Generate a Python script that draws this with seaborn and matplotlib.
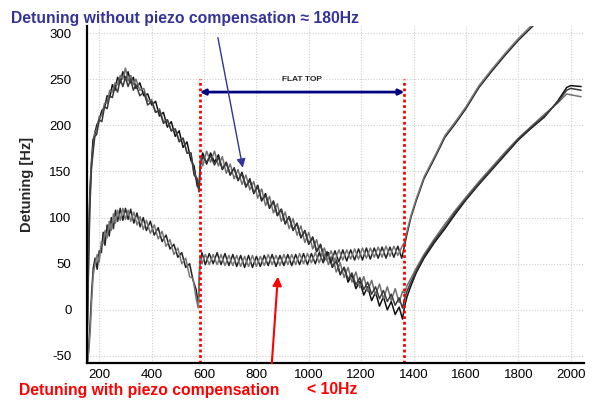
import numpy as np
import pandas as pd
import matplotlib
matplotlib.use("Agg")
import matplotlib.pyplot as plt
import seaborn as sns

# ── Data ──────────────────────────────────────────────────────

# x positions (same for the three uncompensated pulses)
x_free = [
    152, 158, 164, 170, 176, 183, 190, 200, 210, 220,
    230, 240, 250, 260, 270, 280, 290, 300, 310, 320,
    330, 340, 355, 370, 385, 400, 415, 430, 445, 460,
    475, 490, 505, 520, 535, 550, 562, 574, 581, 586,
    595, 610, 625, 640, 655, 670, 685, 700, 715, 730,
    745, 760, 775, 790, 805, 820, 835, 850, 865, 880,
    895, 910, 925, 940, 955, 970, 985, 1000, 1015, 1030,
    1045, 1060, 1075, 1090, 1105, 1120, 1135, 1150, 1165, 1180,
    1195, 1210, 1225, 1240, 1255, 1270, 1285, 1300, 1315, 1330,
    1345, 1358, 1366, 1375, 1390, 1410, 1440, 1480, 1520, 1560,
    1600, 1650, 1700, 1750, 1800, 1850, 1900, 1950, 1985, 2000,
    2040,
]

# detuning without piezo compensation [Hz]
free_a = [
    -62, 60, 128, 160, 184, 190, 200, 206, 216, 219,
    232, 230, 244, 238, 252, 246, 258, 250, 258, 246,
    252, 240, 246, 232, 234, 222, 226, 210, 214, 198,
    204, 188, 194, 176, 182, 162, 156, 134, 132, 160,
    170, 158, 170, 160, 168, 152, 160, 146, 154, 140,
    149, 133, 142, 126, 135, 118, 126, 110, 118, 102,
    109, 93, 101, 86, 94, 78, 86, 71, 79, 63,
    71, 54, 62, 46, 54, 38, 46, 30, 38, 23,
    31, 16, 25, 10, 19, 4, 14, 0, 9, -5,
    3, -10, 4, 14, 26, 40, 56, 73, 88, 104,
    119, 136, 152, 168, 184, 197, 209, 226, 241, 243,
    242,
]
free_b = [
    -60, 40, 120, 158, 174, 194, 194, 210, 210, 224,
    224, 238, 236, 246, 244, 254, 250, 262, 248, 254,
    244, 250, 238, 240, 226, 228, 214, 218, 204, 206,
    194, 196, 184, 186, 170, 170, 148, 142, 128, 166,
    156, 172, 160, 172, 156, 166, 148, 158, 142, 152,
    136, 146, 130, 139, 121, 131, 113, 123, 105, 115,
    96, 106, 88, 99, 81, 91, 73, 84, 66, 76,
    58, 67, 49, 59, 41, 51, 35, 46, 30, 41,
    24, 36, 20, 32, 16, 28, 12, 25, 10, 23,
    8, 20, 18, 26, 34, 45, 60, 77, 93, 108,
    122, 139, 155, 171, 186, 199, 212, 224, 234, 233,
    231,
]
free_c = [
    -64, 30, 110, 152, 170, 188, 190, 206, 204, 220,
    218, 232, 230, 242, 236, 250, 242, 252, 242, 250,
    238, 244, 232, 236, 222, 226, 214, 216, 202, 206,
    194, 196, 182, 186, 170, 170, 146, 142, 128, 156,
    166, 160, 167, 157, 165, 153, 159, 147, 153, 141,
    147, 134, 140, 127, 133, 119, 124, 111, 117, 103,
    109, 94, 101, 87, 93, 79, 85, 72, 78, 64,
    70, 55, 61, 47, 53, 39, 46, 33, 40, 27,
    35, 22, 30, 17, 25, 12, 21, 9, 17, 5,
    13, 2, 12, 20, 30, 42, 58, 75, 90, 106,
    120, 137, 153, 169, 185, 198, 210, 225, 238, 240,
    238,
]

# x positions for the compensated pulses
x_comp = [
    152, 160, 166, 171, 177, 184, 192, 200, 208, 215,
    222, 230, 238, 246, 254, 262, 270, 280, 290, 300,
    310, 320, 332, 344, 356, 368, 380, 395, 410, 425,
    440, 455, 470, 485, 500, 515, 530, 545, 558, 570,
    578, 584, 592, 605, 620, 635, 650, 665, 680, 695,
    710, 725, 740, 755, 770, 785, 800, 815, 830, 845,
    860, 875, 890, 905, 920, 935, 950, 965, 980, 995,
    1010, 1025, 1040, 1055, 1070, 1085, 1100, 1115, 1130, 1145,
    1160, 1175, 1190, 1205, 1220, 1235, 1250, 1265, 1280, 1295,
    1310, 1325, 1340, 1355, 1366, 1375, 1390, 1410, 1440, 1480,
    1520, 1560, 1600, 1650, 1700, 1750, 1800, 1850, 1870,
]

# detuning with piezo compensation [Hz]
comp_a = [
    -65, -40, -10, 20, 45, 56, 44, 64, 62, 84,
    70, 92, 80, 100, 88, 108, 96, 110, 97, 110,
    98, 109, 94, 105, 90, 100, 86, 96, 81, 89,
    74, 81, 66, 71, 57, 62, 46, 50, 32, 22,
    5, 48, 62, 49, 61, 50, 62, 49, 61, 48,
    60, 47, 59, 46, 59, 46, 58, 47, 59, 48,
    60, 47, 59, 48, 60, 48, 60, 49, 61, 49,
    61, 50, 62, 51, 63, 51, 64, 52, 65, 53,
    65, 54, 66, 54, 67, 55, 67, 56, 68, 56,
    68, 57, 69, 56, 70, 82, 100, 118, 142, 164,
    187, 202, 218, 241, 259, 276, 292, 306, 312,
]
comp_b = [
    -66, -45, -20, 10, 38, 50, 60, 52, 74, 72,
    86, 78, 96, 86, 104, 94, 108, 97, 110, 98,
    108, 96, 106, 92, 101, 87, 97, 83, 92, 77,
    85, 69, 76, 60, 67, 50, 56, 36, 34, 12,
    2, 56, 50, 60, 49, 60, 49, 60, 48, 59,
    48, 59, 47, 58, 47, 59, 47, 58, 48, 60,
    49, 59, 48, 60, 49, 60, 49, 61, 50, 61,
    51, 62, 51, 63, 53, 64, 53, 65, 54, 65,
    55, 66, 55, 67, 56, 67, 57, 68, 57, 69,
    58, 69, 59, 68, 74, 85, 102, 120, 144, 166,
    189, 204, 220, 243, 261, 278, 294, 308, 314,
]

x_ticks = [200, 400, 600, 800, 1000, 1200, 1400, 1600, 1800, 2000]
y_ticks = [-50, 0, 50, 100, 150, 200, 250, 300]
flat_top = [584, 1365]

# ── Long table for seaborn ────────────────────────────────────

frames = []
for name, xs, ys in [("free_a", x_free, free_a), ("free_b", x_free, free_b),
                     ("free_c", x_free, free_c), ("comp_a", x_comp, comp_a),
                     ("comp_b", x_comp, comp_b)]:
    frames.append(pd.DataFrame({"t": xs, "detuning": ys, "trace": name}))
df = pd.concat(frames, ignore_index=True)

palette = {"free_a": "#111111", "free_b": "#707070", "free_c": "#3a3a3a",
           "comp_a": "#222222", "comp_b": "#777777"}

# ── Plot ──────────────────────────────────────────────────────

sns.set_style("white")
plt.rcParams["font.family"] = ["Liberation Sans", "DejaVu Sans"]
plt.rcParams["axes.unicode_minus"] = False

fig = plt.figure(figsize=(5.95, 4.03), dpi=100)
ax = fig.add_axes([86.7 / 595, 40 / 403, 497.3 / 595, 337 / 403])

sns.lineplot(data=df, x="t", y="detuning", hue="trace", units="trace",
             estimator=None, sort=False, palette=palette, lw=1.1,
             legend=False, ax=ax)

ax.set_xlim(152, 2051)
ax.set_ylim(-57.6, 307.6)
ax.set_xticks(x_ticks)
ax.set_yticks(y_ticks)
ax.grid(True, color="#cfcfcf", linestyle=(0, (1, 1.5)), lw=0.8)
ax.set_axisbelow(True)
for side in ["top", "right"]:
    ax.spines[side].set_visible(False)
for side in ["left", "bottom"]:
    ax.spines[side].set_color("black")
    ax.spines[side].set_linewidth(1.6)
ax.tick_params(axis="both", length=0, labelsize=9.5, colors="black")
ax.tick_params(axis="y", pad=11)
ax.tick_params(axis="x", pad=4)

ax.set_xlabel("")
ax.set_ylabel("Detuning [Hz]", fontsize=10.5, fontweight="bold")
ax.yaxis.set_label_coords(-0.106, 0.53)

# flat-top markers
ax.vlines(flat_top, -57.6, 250, colors="red", linestyles=(0, (1, 1)), lw=2)
ax.annotate("", xy=(flat_top[0], 236), xytext=(flat_top[1], 236),
            arrowprops=dict(arrowstyle="<|-|>", color="#000080", lw=2,
                            mutation_scale=8, shrinkA=0, shrinkB=0))
ax.text(sum(flat_top) / 2, 250, "FLAT TOP", fontsize=6, fontweight="bold",
        ha="center", va="center")

# pointers from the captions
ax.annotate("", xy=(748, 154), xytext=(653, 295),
            arrowprops=dict(arrowstyle="-|>", color="#333399", lw=1,
                            mutation_scale=13, shrinkA=0, shrinkB=0))
ax.annotate("", xy=(882, 36), xytext=(859, -57.6), annotation_clip=False,
            arrowprops=dict(arrowstyle="-|>", color="red", lw=1.5,
                            mutation_scale=13, shrinkA=0, shrinkB=0))

fig.text(11 / 595, 1 - 19 / 403, "Detuning without piezo compensation \u2248 180Hz",
         color="#333399", fontsize=11.3, fontweight="bold", va="center")
fig.text(19 / 595, 1 - 390 / 403, "Detuning with piezo compensation",
         color="red", fontsize=11.3, fontweight="bold", va="center")
fig.text(307 / 595, 1 - 390 / 403, "< 10Hz",
         color="red", fontsize=11.3, fontweight="bold", va="center")

fig.savefig("out.png", dpi=100)
